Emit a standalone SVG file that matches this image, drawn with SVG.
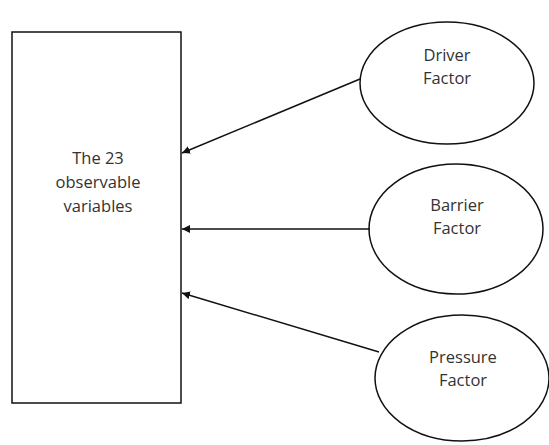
<svg xmlns="http://www.w3.org/2000/svg" width="549" height="445" viewBox="0 0 549 445">
<style>
.shape{fill:#fff;stroke:#111;stroke-width:1.5}
.conn{stroke:#111;stroke-width:1.5;fill:none;marker-end:url(#ah)}
text{font-family:"Open Sans","Liberation Sans",sans-serif;font-size:16.5px;fill:#333;text-anchor:middle}
</style>
<defs>
<marker id="ah" viewBox="0 0 10 10" refX="10" refY="5" markerWidth="8" markerHeight="8" markerUnits="userSpaceOnUse" orient="auto">
<path d="M0,0 L10,5 L0,10 z" fill="#111"/>
</marker>
</defs>
<rect width="549" height="445" fill="#fff"/>
<g id="observables">
<rect class="shape" x="12" y="32" width="169" height="371"/>
<text x="98" y="164">The 23</text>
<text x="98" y="188">observable</text>
<text x="98" y="212">variables</text>
</g>
<g id="driver">
<ellipse class="shape" cx="447" cy="83" rx="87" ry="61"/>
<text x="447" y="61">Driver</text>
<text x="447" y="84">Factor</text>
</g>
<g id="barrier">
<ellipse class="shape" cx="456" cy="229" rx="87" ry="65"/>
<text x="457" y="211">Barrier</text>
<text x="457" y="234">Factor</text>
</g>
<g id="pressure">
<ellipse class="shape" cx="462" cy="378" rx="87" ry="63"/>
<text x="463" y="363">Pressure</text>
<text x="463" y="386">Factor</text>
</g>
<g id="connectors">
<line class="conn" x1="360" y1="79" x2="182" y2="153"/>
<line class="conn" x1="370" y1="229" x2="182" y2="229"/>
<line class="conn" x1="379" y1="352" x2="182" y2="293"/>
</g>
</svg>
